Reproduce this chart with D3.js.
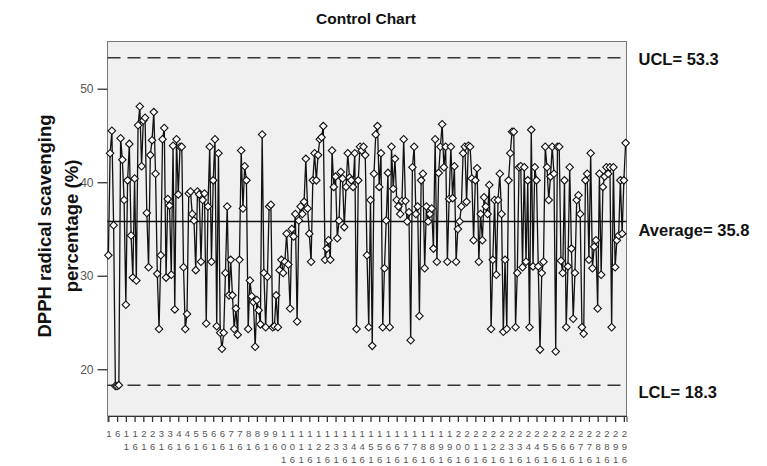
<!DOCTYPE html>
<html>
<head>
<meta charset="utf-8">
<script src="https://cdn.jsdelivr.net/npm/d3@7"></script>
<style>
  body { margin: 0; background: #fff; }
  text { font-family: "Liberation Sans", Arial, sans-serif; }
</style>
</head>
<body>
<div id="chart"></div>
<script>
var width = 767;
var height = 466;

// DPPH radical scavenging (%) per sample
var values = [
  32.2, 43.1, 45.5, 35.4, 18.2, 18.2, 18.3, 44.7, 42.4, 38.1,
  26.9, 40.2, 44.1, 34.3, 29.8, 40.4, 29.5, 46.1, 48.1, 41.7,
  46.6, 46.9, 36.7, 30.9, 42.9, 44.5, 47.5, 40.9, 30.2, 24.3,
  32.2, 44.6, 45.8, 29.8, 38.2, 37.5, 30.1, 43.9, 26.4, 44.6,
  38.7, 43.8, 43.8, 30.9, 24.3, 25.9, 38.8, 39.0,
  36.6, 35.9, 30.6, 39.0, 38.7, 31.5, 38.1, 38.8, 24.9, 37.4,
  43.8, 31.5, 40.2, 44.6, 24.6, 43.1, 23.9, 22.2, 23.9, 30.3,
  37.4, 27.9, 31.7, 27.9, 24.3, 26.5, 23.7, 31.7, 43.4, 37.2,
  41.7, 40.2, 24.3, 29.5, 27.8, 27.2, 22.4, 27.4, 26.3,
  24.8, 45.1, 30.3, 24.5, 29.9, 37.4, 37.6, 24.5, 24.6, 27.9,
  24.5, 30.6, 31.7, 30.3, 31.5, 34.5, 31.2, 26.5, 35.0, 34.2,
  36.6, 25.1, 35.9, 37.4, 36.6, 37.9, 42.5, 37.2, 34.5, 31.5,
  40.2, 43.1, 40.2, 42.9, 44.6, 44.8, 46.0, 31.7, 32.9, 33.8,
  31.7, 43.4, 39.5, 40.6, 34.0, 35.9, 41.1, 40.4, 35.2, 39.5,
  43.1, 40.5, 40.2, 39.5, 43.1, 24.3, 40.2, 43.8, 43.4,
  43.8, 42.9, 32.2, 24.5, 38.1, 22.5, 40.9, 45.1, 46.0, 39.5,
  43.1, 24.5, 30.8, 35.9, 41.0, 24.5, 43.8, 39.3, 42.5, 38.1,
  37.4, 36.6, 38.0, 44.6, 38.0, 35.8, 36.8, 23.1, 41.6, 43.8,
  36.6, 37.4, 25.7, 40.2, 40.9, 30.8, 37.4, 35.8, 36.6, 37.2,
  32.9, 44.6, 31.5, 41.0, 43.8, 46.2, 41.6, 43.8, 31.5, 38.2,
  43.8, 38.3, 41.7, 31.5, 35.0, 35.8, 37.4, 43.1, 43.8, 37.9,
  43.9, 43.8, 40.4, 33.8, 40.2, 41.5, 31.5, 36.6, 33.8, 38.4,
  37.4, 36.6, 39.7, 24.3, 31.7, 38.1, 30.1, 38.1, 40.9, 36.6,
  24.0, 31.7, 24.3, 40.2, 43.1, 45.4, 45.4, 24.5, 30.3, 41.6,
  41.7, 30.9, 41.6, 31.5, 40.2, 24.5, 45.6, 31.0, 41.6,
  40.2, 31.0, 22.1, 30.3, 31.5, 43.8, 41.6, 38.1, 40.6, 43.8,
  40.9, 21.9, 43.8, 43.8, 31.6, 30.3, 40.2, 24.5, 31.0, 41.6,
  32.9, 25.4, 30.3, 38.1, 38.6, 36.6, 24.5, 23.8, 40.2, 40.9,
  31.7, 43.1, 30.8, 33.1, 33.8, 26.5, 40.9, 30.1, 39.5, 40.6,
  41.6, 40.9, 41.6, 24.5, 41.6, 30.9, 33.8, 34.3, 40.2, 34.5,
  40.2, 44.2
];

// sample numbers 1..n
var samples = d3.range(1, values.length + 1);

// labelled samples on the x axis
var xTickValues = d3.range(1, 297, 5);
var yTickValues = [20, 30, 40, 50];

var limitNames = ["UCL", "Average", "LCL"];
var limitValues = [53.3, 35.8, 18.3];

var plotLeft = 107.5;
var plotRight = 626.5;
var plotTop = 41.5;
var plotBottom = 416;

var svg = d3
  .select("#chart")
  .append("svg")
  .attr("width", width)
  .attr("height", height);

var xScale = d3
  .scalePoint()
  .domain(samples)
  .range([plotLeft, plotRight])
  .padding(0.5);

var yScale = d3
  .scaleLinear()
  .domain([15, 55.05])
  .range([plotBottom, plotTop]);

// title
svg
  .append("text")
  .attr("x", 366)
  .attr("y", 24)
  .attr("text-anchor", "middle")
  .attr("font-size", 15.5)
  .attr("font-weight", "bold")
  .attr("fill", "#111")
  .text("Control Chart");

// plot background
svg
  .append("rect")
  .attr("x", plotLeft)
  .attr("y", plotTop)
  .attr("width", plotRight - plotLeft)
  .attr("height", plotBottom - plotTop)
  .attr("fill", "#f0f0f0")
  .attr("stroke", "#777")
  .attr("stroke-width", 1);

// control limit lines
svg
  .selectAll(".limit")
  .data(limitValues)
  .enter()
  .append("line")
  .attr("class", "limit")
  .attr("x1", plotLeft)
  .attr("x2", plotRight)
  .attr("y1", function(d) { return yScale(d); })
  .attr("y2", function(d) { return yScale(d); })
  .attr("stroke", function(d, i) { return i === 1 ? "#111" : "#333"; })
  .attr("stroke-width", function(d, i) { return i === 1 ? 1.4 : 1.5; })
  .attr("stroke-dasharray", function(d, i) { return i === 1 ? null : "13,7"; });

// limit labels on the right
var labelBaseline = [65, 236, 398];
svg
  .selectAll(".limitText")
  .data(limitValues)
  .enter()
  .append("text")
  .attr("class", "limitText")
  .attr("x", 638.5)
  .attr("y", function(d, i) { return labelBaseline[i]; })
  .attr("font-size", 16.5)
  .attr("font-weight", "bold")
  .attr("fill", "#111")
  .text(function(d, i) { return limitNames[i] + "= " + d.toFixed(1); });

// the series line
var line = d3
  .line()
  .x(function(d, i) { return xScale(samples[i]); })
  .y(function(d) { return yScale(d); });

svg
  .append("path")
  .datum(values)
  .attr("d", line)
  .attr("fill", "none")
  .attr("stroke", "#111")
  .attr("stroke-width", 1.3);

// diamond markers
var diamond = d3.symbol().type(d3.symbolSquare).size(28);
svg
  .selectAll(".pt")
  .data(values)
  .enter()
  .append("path")
  .attr("class", "pt")
  .attr("d", diamond)
  .attr("transform", function(d, i) {
    return "translate(" + xScale(samples[i]) + "," + yScale(d) + ")rotate(45)";
  })
  .attr("fill", "#fdfdfd")
  .attr("stroke", "#111")
  .attr("stroke-width", 1.1);

// y axis
var yAxis = d3.axisLeft(yScale).tickValues(yTickValues).tickSize(10).tickPadding(4);
var yG = svg
  .append("g")
  .attr("transform", "translate(" + plotLeft + ",0)")
  .call(yAxis);
yG.select(".domain").remove();
yG.selectAll("line").attr("stroke", "#333").attr("stroke-width", 1.3);
yG.selectAll("text")
  .attr("font-size", 12)
  .attr("fill", "#555")
  .attr("font-family", "Liberation Sans, Arial, sans-serif");

// x axis, labels are written one digit per row
var xAxis = d3.axisBottom(xScale).tickValues(xTickValues).tickSize(6).tickFormat("");
var xG = svg
  .append("g")
  .attr("transform", "translate(0," + plotBottom + ")")
  .call(xAxis);
xG.select(".domain").attr("stroke", "#333");
xG.selectAll("line").attr("stroke", "#333").attr("stroke-width", 1.3);

xG.selectAll(".tick")
  .append("text")
  .attr("fill", "#555")
  .attr("font-size", 9.5)
  .attr("text-anchor", "middle")
  .each(function(d) {
    var digits = String(d).split("");
    var t = d3.select(this);
    digits.forEach(function(c, k) {
      t.append("tspan")
        .attr("x", 0)
        .attr("y", 21 + k * 13)
        .text(c);
    });
  });

// y axis title
var yTitle = ["DPPH radical scavenging", "percentage (%)"];
svg
  .selectAll(".yTitle")
  .data(yTitle)
  .enter()
  .append("text")
  .attr("class", "yTitle")
  .attr("transform", function(d, i) {
    return "translate(" + (51 + i * 27) + ",226)rotate(-90)";
  })
  .attr("text-anchor", "middle")
  .attr("font-size", 18.5)
  .attr("font-weight", "bold")
  .attr("fill", "#111")
  .text(function(d) { return d; });
</script>
</body>
</html>
